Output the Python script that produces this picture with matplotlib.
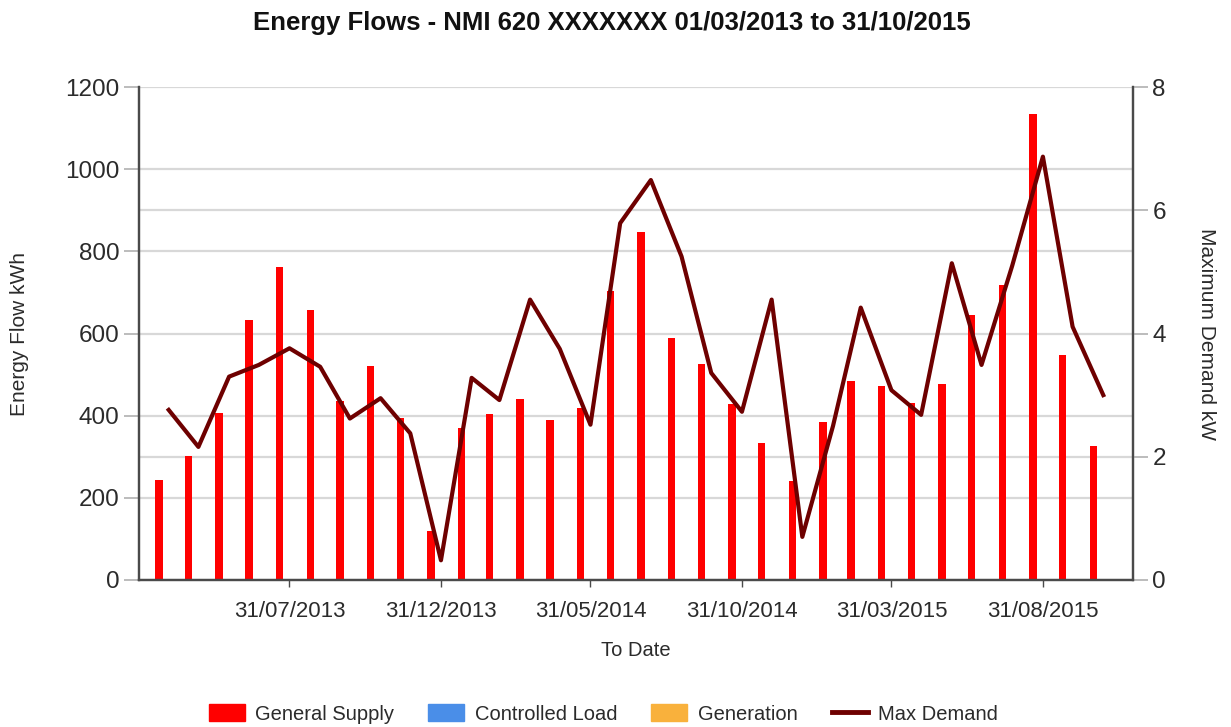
import matplotlib

matplotlib.use("Agg")
import matplotlib.pyplot as plt
import matplotlib.dates as mdates
from matplotlib.patches import Patch
from matplotlib.lines import Line2D
import numpy as np
import pandas as pd

plt.rcParams["font.family"] = ["Liberation Sans", "DejaVu Sans"]

# monthly reads, month-end dates 31/03/2013 .. 31/10/2015
dates = pd.date_range("2013-03-31", periods=32, freq="ME")
general_supply = [243, 302, 406, 633, 763, 656, 435, 521, 395, 119,
                  370, 404, 440, 389, 418, 704, 848, 590, 526, 428,
                  334, 241, 384, 484, 471, 431, 476, 644, 718, 1134,
                  548, 327]
max_demand = [2.76, 2.16, 3.30, 3.49, 3.76, 3.46, 2.62, 2.95, 2.38, 0.32,
              3.28, 2.92, 4.55, 3.75, 2.52, 5.79, 6.49, 5.25, 3.36, 2.73,
              4.55, 0.70, 2.50, 4.42, 3.08, 2.68, 5.14, 3.49, 5.10, 6.87,
              4.11, 3.00]
tick_idx = [4, 9, 14, 19, 24, 29]

RED = "#ff0000"
BLUE = "#4a8ee8"
ORANGE = "#f9b13c"
MAROON = "#6e0000"
GRID = "#d8d8d8"
TXT = "#2b2b2b"

fig = plt.figure(figsize=(12.31, 7.27), dpi=100)
ax = fig.add_axes([139 / 1231, 1 - 580 / 727, (1133 - 139) / 1231, (580 - 87) / 727])
ax2 = ax.twinx()

x = mdates.date2num(dates)
ax.bar(x - 10, general_supply, width=7.5, color=RED, zorder=2)
ax.set_xlim(mdates.date2num(pd.Timestamp("2013-03-01")),
            mdates.date2num(pd.Timestamp("2015-11-30")))
ax.set_ylim(0, 1200)
ax.set_yticks(np.arange(0, 1201, 200))
# right-axis grid (2 and 6 kW) drawn behind bars
ax.set_yticks([300, 900], minor=True)
ax.tick_params(axis="y", which="minor", length=0)
ax.grid(axis="y", which="both", color=GRID, linewidth=1.6, zorder=0)
ax.set_axisbelow(True)

ax2.plot(x, max_demand, color=MAROON, linewidth=3.0, zorder=3)
ax2.set_ylim(0, 8)
ax2.set_yticks(np.arange(0, 9, 2))

ax.set_xticks(x[tick_idx])
ax.set_xticklabels([d.strftime("%d/%m/%Y") for d in dates[tick_idx]])

for a in (ax, ax2):
    a.spines["top"].set_visible(False)
    for s in ("left", "right", "bottom"):
        a.spines[s].set_color("#4a4a4a")
        a.spines[s].set_linewidth(1.6)
ax.tick_params(axis="y", which="major", length=11, width=1.2, color="#b0b0b0",
               labelsize=17.5, labelcolor=TXT, pad=3)
ax2.tick_params(axis="y", length=11, width=1.2, color="#b0b0b0",
                labelsize=17.5, labelcolor=TXT, pad=3)
ax.tick_params(axis="x", length=5, width=1, color="#4a4a4a",
               labelsize=16, labelcolor=TXT, pad=10)

ax.set_ylabel("Energy Flow kWh", fontsize=15, color=TXT, labelpad=26)
ax2.set_ylabel("Maximum Demand kW", fontsize=15, color=TXT, rotation=270,
               labelpad=36)
ax.set_xlabel("To Date", fontsize=14.5, color=TXT, labelpad=14)

fig.text(0.497, 0.968, "Energy Flows - NMI 620 XXXXXXX 01/03/2013 to 31/10/2015",
         ha="center", va="center", fontsize=18.5, fontweight="bold", color="#111111")

handles = [Patch(color=RED), Patch(color=BLUE), Patch(color=ORANGE),
           Line2D([], [], color=MAROON, linewidth=3.5)]
labels = ["General Supply", "Controlled Load", "Generation", "Max Demand"]
fig.legend(handles, labels, loc="center", bbox_to_anchor=(0.49, 0.018), ncol=4,
           frameon=False, fontsize=14.5, handlelength=1.8, handleheight=0.9,
           columnspacing=1.7, handletextpad=0.5, labelcolor=TXT)

fig.savefig("out.png", dpi=100)
